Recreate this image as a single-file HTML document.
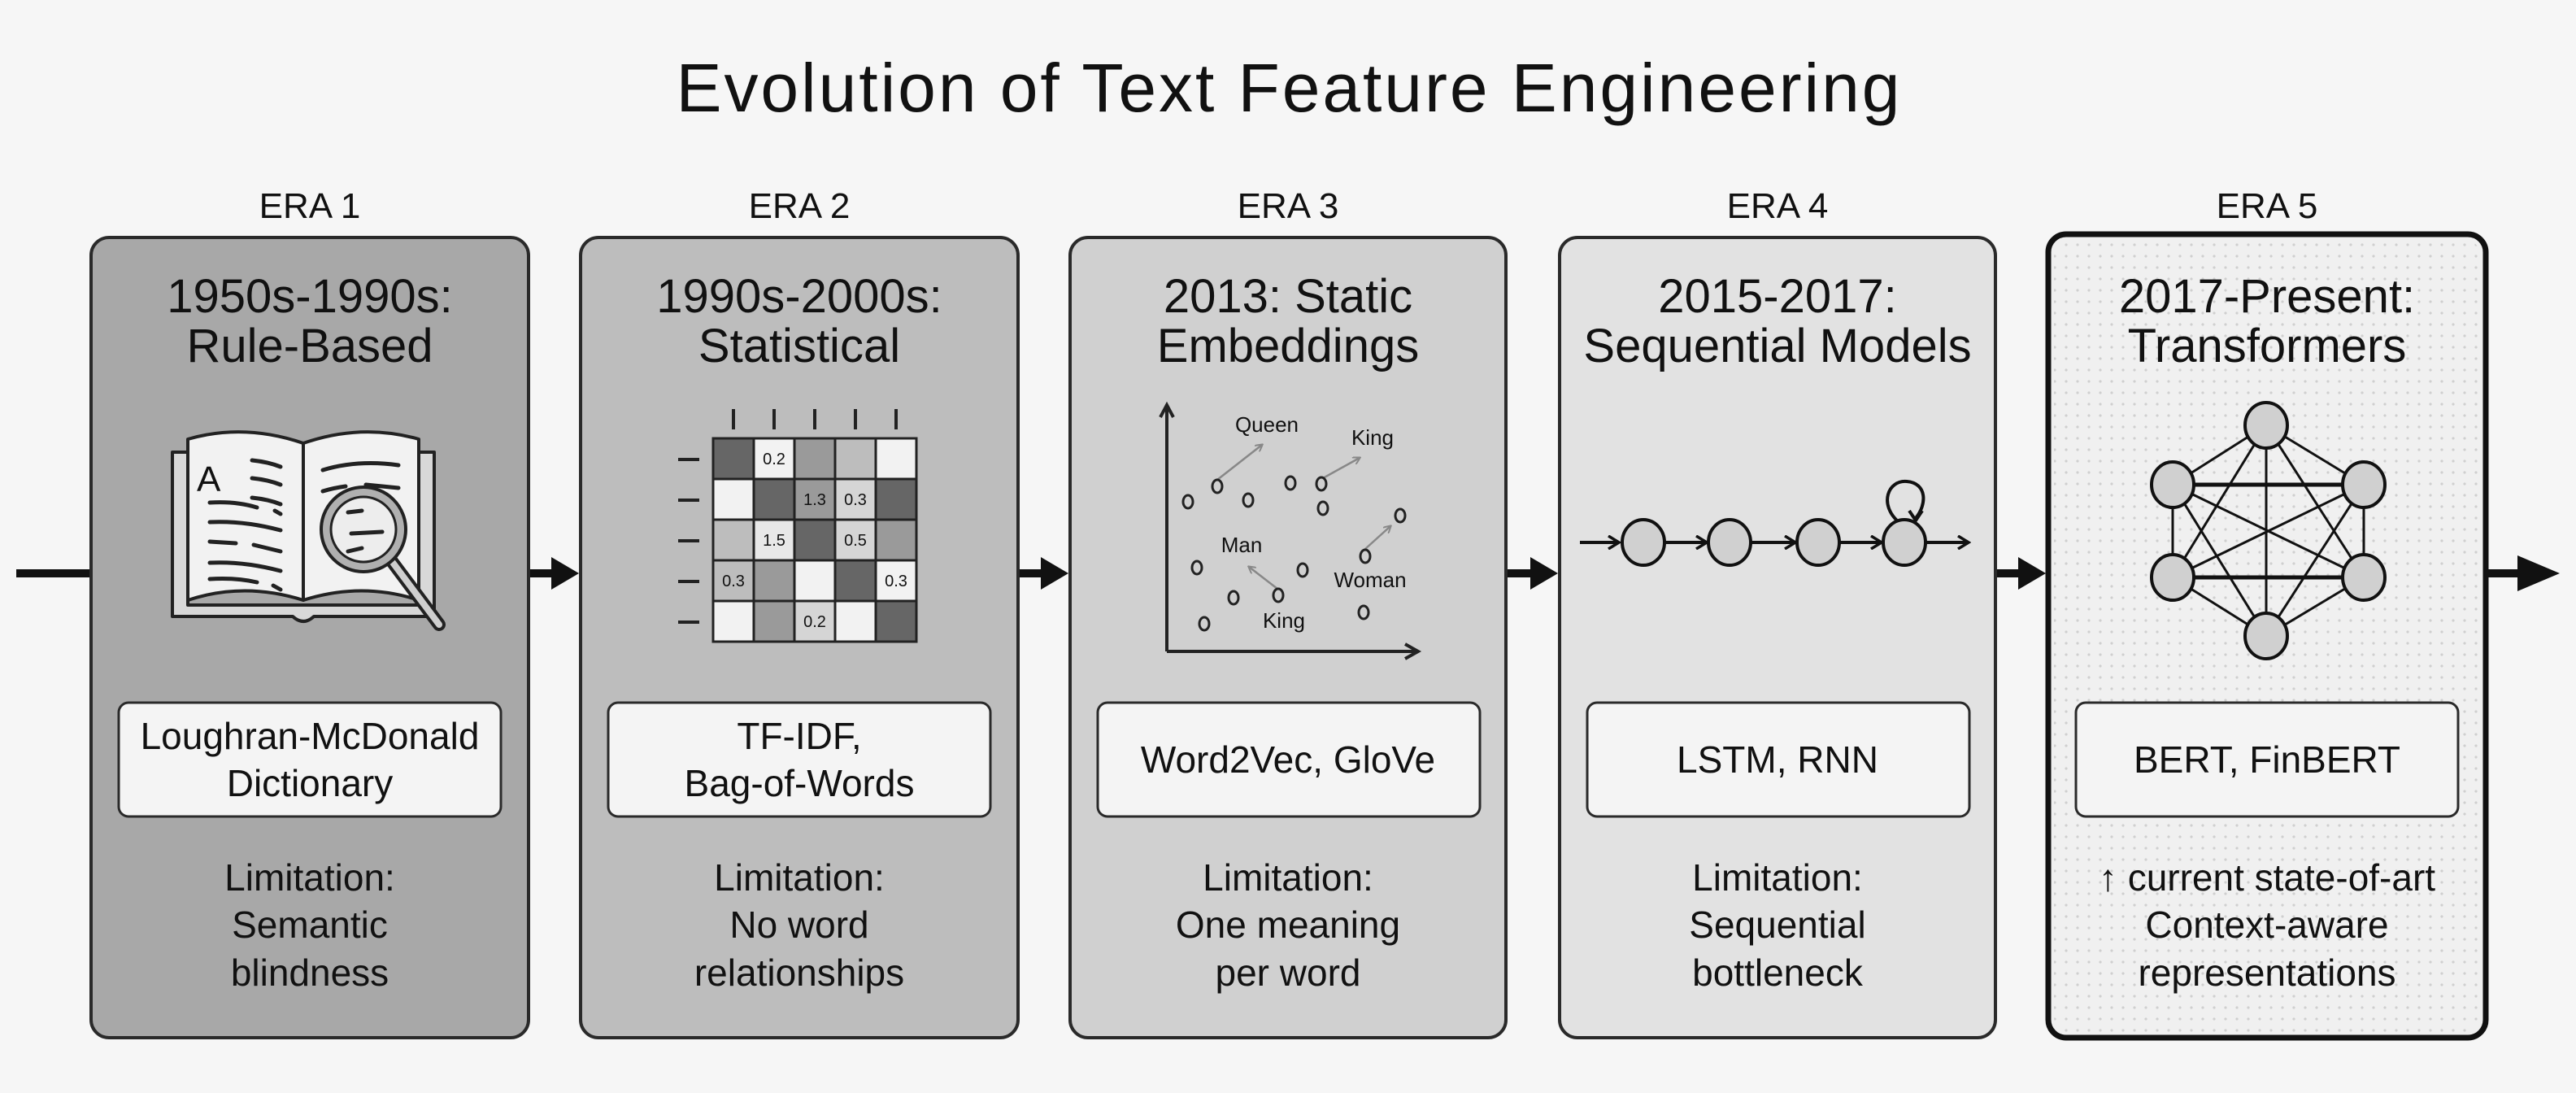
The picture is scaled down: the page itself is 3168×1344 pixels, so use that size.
<!DOCTYPE html>
<html><head><meta charset="utf-8"><style>
html,body{margin:0;padding:0;background:#f6f6f6;}
svg{display:block;}
text{font-family:"Liberation Sans",sans-serif;fill:#111;}
</style></head><body>
<svg width="3168" height="1344" viewBox="0 0 3168 1344" xmlns="http://www.w3.org/2000/svg">
<defs>
<pattern id="dots" width="14" height="14" patternUnits="userSpaceOnUse"><circle cx="7" cy="7" r="1.6" fill="#cfcfcf"/></pattern>
<marker id="ah" markerWidth="10" markerHeight="10" refX="8" refY="5" orient="auto" markerUnits="userSpaceOnUse"><path d="M0,0 L9,5 L0,10" fill="none" stroke="#888" stroke-width="2"/></marker>
<marker id="ahb" markerWidth="18" markerHeight="18" refX="14" refY="9" orient="auto" markerUnits="userSpaceOnUse"><path d="M2,1 L15,9 L2,17" fill="none" stroke="#111" stroke-width="3.5"/></marker>
</defs>
<rect width="3168" height="1344" fill="#f6f6f6"/>
<text x="1584" y="137" font-size="84" text-anchor="middle" textLength="1505">Evolution of Text Feature Engineering</text>

<!-- timeline -->
<g fill="#111">
<rect x="20" y="700" width="92" height="10"/>
<rect x="650" y="700" width="30" height="10"/><path d="M678,685 L712,705 L678,725Z"/>
<rect x="1252" y="700" width="30" height="10"/><path d="M1280,685 L1314,705 L1280,725Z"/>
<rect x="1852" y="700" width="32" height="10"/><path d="M1882,685 L1916,705 L1882,725Z"/>
<rect x="2454" y="700" width="30" height="10"/><path d="M2482,685 L2516,705 L2482,725Z"/>
<rect x="3058" y="700" width="40" height="10"/><path d="M3096,683 L3148,705 L3096,727Z"/>
</g>

<!-- ERA labels -->
<g font-size="44" text-anchor="middle">
<text x="381" y="268">ERA 1</text><text x="983" y="268">ERA 2</text><text x="1584" y="268">ERA 3</text><text x="2186" y="268">ERA 4</text><text x="2788" y="268">ERA 5</text>
</g>

<!-- panels -->
<rect x="112" y="292" width="538" height="984" rx="22" fill="#a8a8a8" stroke="#2a2a2a" stroke-width="4"/>
<rect x="714" y="292" width="538" height="984" rx="22" fill="#bdbdbd" stroke="#2a2a2a" stroke-width="4"/>
<rect x="1316" y="292" width="536" height="984" rx="22" fill="#d0d0d0" stroke="#2a2a2a" stroke-width="4"/>
<rect x="1918" y="292" width="536" height="984" rx="22" fill="#e2e2e2" stroke="#2a2a2a" stroke-width="4"/>
<rect x="2519" y="288" width="538" height="988" rx="22" fill="#f0f0f0" stroke="#111" stroke-width="7"/>
<rect x="2526" y="295" width="524" height="974" rx="18" fill="url(#dots)"/>

<!-- titles -->
<g font-size="58" text-anchor="middle">
<text x="381" y="384">1950s-1990s:</text><text x="381" y="445">Rule-Based</text>
<text x="983" y="384">1990s-2000s:</text><text x="983" y="445">Statistical</text>
<text x="1584" y="384">2013: Static</text><text x="1584" y="445">Embeddings</text>
<text x="2186" y="384">2015-2017:</text><text x="2186" y="445">Sequential Models</text>
<text x="2788" y="384">2017-Present:</text><text x="2788" y="445">Transformers</text>
</g>

<!-- name boxes -->
<g fill="#f4f4f4" stroke="#2a2a2a" stroke-width="3">
<rect x="146" y="864" width="470" height="140" rx="12"/>
<rect x="748" y="864" width="470" height="140" rx="12"/>
<rect x="1350" y="864" width="470" height="140" rx="12"/>
<rect x="1952" y="864" width="470" height="140" rx="12"/>
<rect x="2553" y="864" width="470" height="140" rx="12"/>
</g>
<g font-size="46" text-anchor="middle">
<text x="381" y="921">Loughran-McDonald</text><text x="381" y="979">Dictionary</text>
<text x="983" y="921">TF-IDF,</text><text x="983" y="979">Bag-of-Words</text>
<text x="1584" y="950">Word2Vec, GloVe</text>
<text x="2186" y="950">LSTM, RNN</text>
<text x="2788" y="950">BERT, FinBERT</text>
</g>

<!-- limitations -->
<g font-size="46" text-anchor="middle">
<text x="381" y="1095">Limitation:</text><text x="381" y="1153">Semantic</text><text x="381" y="1212">blindness</text>
<text x="983" y="1095">Limitation:</text><text x="983" y="1153">No word</text><text x="983" y="1212">relationships</text>
<text x="1584" y="1095">Limitation:</text><text x="1584" y="1153">One meaning</text><text x="1584" y="1212">per word</text>
<text x="2186" y="1095">Limitation:</text><text x="2186" y="1153">Sequential</text><text x="2186" y="1212">bottleneck</text>
<text x="2788" y="1095">↑ current state-of-art</text><text x="2788" y="1153">Context-aware</text><text x="2788" y="1212">representations</text>
</g>

<!-- ERA1 book -->
<g stroke="#222" stroke-width="4" stroke-linejoin="round">
<path d="M212,556 L212,758 L360,758 Q373,770 386,758 L534,758 L534,556 L515,556 L515,744 L231,744 L231,556Z" fill="#d8d8d8"/>
<path d="M231,540 Q300,520 373,545 L373,738 Q300,715 231,738Z" fill="#f2f2f2"/>
<path d="M373,545 Q445,520 515,540 L515,738 Q445,715 373,738Z" fill="#f2f2f2"/>
<line x1="373" y1="545" x2="373" y2="738"/>
</g>
<text x="242" y="604" font-size="44" fill="#222">A</text>
<g stroke="#222" stroke-width="5" fill="none" stroke-linecap="round">
<path d="M310,566 Q330,568 345,574"/><path d="M310,588 Q330,590 345,596"/><path d="M310,612 Q330,614 345,620"/>
<path d="M258,618 Q290,616 316,624"/><path d="M338,628 L345,632"/>
<path d="M258,642 Q300,640 345,652"/><path d="M258,666 L290,668"/><path d="M312,670 L345,678"/>
<path d="M258,692 Q300,690 345,702"/><path d="M258,712 Q290,710 316,716"/><path d="M336,720 L345,725"/>
<path d="M397,578 Q440,565 490,572"/><path d="M397,604 Q410,600 425,598"/><path d="M450,596 L490,600"/>
</g>
<line x1="478" y1="685" x2="540" y2="768" stroke="#222" stroke-width="16" stroke-linecap="round"/>
<line x1="478" y1="685" x2="540" y2="768" stroke="#cfcfcf" stroke-width="8" stroke-linecap="round"/>
<circle cx="447" cy="651" r="52" fill="#b0b0b0" stroke="#222" stroke-width="4"/>
<circle cx="447" cy="651" r="40" fill="#ededed" stroke="#222" stroke-width="3"/>
<g stroke="#222" stroke-width="5" stroke-linecap="round"><line x1="428" y1="630" x2="445" y2="628"/><line x1="432" y1="656" x2="470" y2="654"/><line x1="428" y1="678" x2="445" y2="674"/></g>

<!-- ERA2 matrix -->
<g stroke="#222" stroke-width="3">
<rect x="877" y="539" width="50" height="50" fill="#666"/><rect x="927" y="539" width="50" height="50" fill="#f2f2f2"/><rect x="977" y="539" width="50" height="50" fill="#9a9a9a"/><rect x="1027" y="539" width="50" height="50" fill="#bdbdbd"/><rect x="1077" y="539" width="50" height="50" fill="#f2f2f2"/>
<rect x="877" y="589" width="50" height="50" fill="#f2f2f2"/><rect x="927" y="589" width="50" height="50" fill="#666"/><rect x="977" y="589" width="50" height="50" fill="#9a9a9a"/><rect x="1027" y="589" width="50" height="50" fill="#d5d5d5"/><rect x="1077" y="589" width="50" height="50" fill="#666"/>
<rect x="877" y="639" width="50" height="50" fill="#bdbdbd"/><rect x="927" y="639" width="50" height="50" fill="#e8e8e8"/><rect x="977" y="639" width="50" height="50" fill="#666"/><rect x="1027" y="639" width="50" height="50" fill="#d5d5d5"/><rect x="1077" y="639" width="50" height="50" fill="#9a9a9a"/>
<rect x="877" y="689" width="50" height="50" fill="#bdbdbd"/><rect x="927" y="689" width="50" height="50" fill="#9a9a9a"/><rect x="977" y="689" width="50" height="50" fill="#f2f2f2"/><rect x="1027" y="689" width="50" height="50" fill="#666"/><rect x="1077" y="689" width="50" height="50" fill="#f2f2f2"/>
<rect x="877" y="739" width="50" height="50" fill="#f2f2f2"/><rect x="927" y="739" width="50" height="50" fill="#9a9a9a"/><rect x="977" y="739" width="50" height="50" fill="#d5d5d5"/><rect x="1027" y="739" width="50" height="50" fill="#f2f2f2"/><rect x="1077" y="739" width="50" height="50" fill="#666"/>
</g>
<g font-size="20" text-anchor="middle">
<text x="952" y="571">0.2</text><text x="1002" y="621">1.3</text><text x="1052" y="621">0.3</text><text x="952" y="671">1.5</text><text x="1052" y="671">0.5</text><text x="902" y="721">0.3</text><text x="1102" y="721">0.3</text><text x="1002" y="771">0.2</text>
</g>
<g stroke="#222" stroke-width="4">
<line x1="902" y1="503" x2="902" y2="528"/><line x1="952" y1="503" x2="952" y2="528"/><line x1="1002" y1="503" x2="1002" y2="528"/><line x1="1052" y1="503" x2="1052" y2="528"/><line x1="1102" y1="503" x2="1102" y2="528"/>
<line x1="834" y1="565" x2="860" y2="565"/><line x1="834" y1="615" x2="860" y2="615"/><line x1="834" y1="665" x2="860" y2="665"/><line x1="834" y1="715" x2="860" y2="715"/><line x1="834" y1="765" x2="860" y2="765"/>
</g>

<!-- ERA3 scatter -->
<g stroke="#222" stroke-width="4" fill="none">
<path d="M1435,801 L1435,500 M1427,513 L1435,498 L1443,513"/>
<path d="M1435,801 L1742,801 M1728,792 L1744,801 L1728,810"/>
</g>
<g stroke="#888" stroke-width="2.5" marker-end="url(#ah)">
<line x1="1497" y1="590" x2="1552" y2="547"/><line x1="1627" y1="588" x2="1672" y2="563"/><line x1="1679" y1="675" x2="1710" y2="647"/><line x1="1571" y1="724" x2="1536" y2="697"/>
</g>
<g fill="#d0d0d0" stroke="#222" stroke-width="3">
<ellipse cx="1461" cy="617" rx="6" ry="8"/><ellipse cx="1497" cy="598" rx="6" ry="8"/><ellipse cx="1535" cy="615" rx="6" ry="8"/><ellipse cx="1587" cy="594" rx="6" ry="8"/><ellipse cx="1625" cy="595" rx="6" ry="8"/><ellipse cx="1627" cy="625" rx="6" ry="8"/><ellipse cx="1722" cy="634" rx="6" ry="8"/><ellipse cx="1679" cy="684" rx="6" ry="8"/><ellipse cx="1472" cy="698" rx="6" ry="8"/><ellipse cx="1602" cy="701" rx="6" ry="8"/><ellipse cx="1572" cy="732" rx="6" ry="8"/><ellipse cx="1517" cy="735" rx="6" ry="8"/><ellipse cx="1677" cy="753" rx="6" ry="8"/><ellipse cx="1481" cy="767" rx="6" ry="8"/>
</g>
<g font-size="26" text-anchor="middle">
<text x="1558" y="531">Queen</text><text x="1688" y="547">King</text><text x="1527" y="679">Man</text><text x="1685" y="722">Woman</text><text x="1579" y="772">King</text>
</g>

<!-- ERA4 chain -->
<g stroke="#111" stroke-width="4" fill="none">
<line x1="1943" y1="667" x2="1990" y2="667" marker-end="url(#ahb)"/>
<line x1="2048" y1="667" x2="2098" y2="667" marker-end="url(#ahb)"/>
<line x1="2154" y1="667" x2="2207" y2="667" marker-end="url(#ahb)"/>
<line x1="2263" y1="667" x2="2313" y2="667" marker-end="url(#ahb)"/>
<line x1="2369" y1="667" x2="2420" y2="667" marker-end="url(#ahb)"/>
<path d="M2335,642 C2310,620 2322,590 2345,592 C2370,594 2370,620 2356,637" />
<path d="M2348,628 L2356,640 L2364,628"/>
</g>
<g fill="#d0d0d0" stroke="#111" stroke-width="4">
<ellipse cx="2021" cy="667" rx="26" ry="28"/><ellipse cx="2127" cy="667" rx="26" ry="28"/><ellipse cx="2236" cy="667" rx="26" ry="28"/><ellipse cx="2342" cy="667" rx="26" ry="28"/>
</g>

<!-- ERA5 network -->
<g stroke="#111" stroke-width="3">
<line x1="2787" y1="523" x2="2672" y2="596"/><line x1="2787" y1="523" x2="2907" y2="596"/><line x1="2787" y1="523" x2="2672" y2="710"/><line x1="2787" y1="523" x2="2907" y2="710"/><line x1="2787" y1="523" x2="2787" y2="782"/>
<line x1="2672" y1="596" x2="2907" y2="596" stroke-width="5"/><line x1="2672" y1="596" x2="2672" y2="710"/><line x1="2672" y1="596" x2="2907" y2="710"/><line x1="2672" y1="596" x2="2787" y2="782"/>
<line x1="2907" y1="596" x2="2672" y2="710"/><line x1="2907" y1="596" x2="2907" y2="710"/><line x1="2907" y1="596" x2="2787" y2="782"/>
<line x1="2672" y1="710" x2="2907" y2="710" stroke-width="5"/><line x1="2672" y1="710" x2="2787" y2="782"/><line x1="2907" y1="710" x2="2787" y2="782"/>
</g>
<g fill="#d0d0d0" stroke="#111" stroke-width="4">
<ellipse cx="2787" cy="523" rx="26" ry="28"/><ellipse cx="2672" cy="596" rx="26" ry="28"/><ellipse cx="2907" cy="596" rx="26" ry="28"/><ellipse cx="2672" cy="710" rx="26" ry="28"/><ellipse cx="2907" cy="710" rx="26" ry="28"/><ellipse cx="2787" cy="782" rx="26" ry="28"/>
</g>
</svg>
</body></html>
